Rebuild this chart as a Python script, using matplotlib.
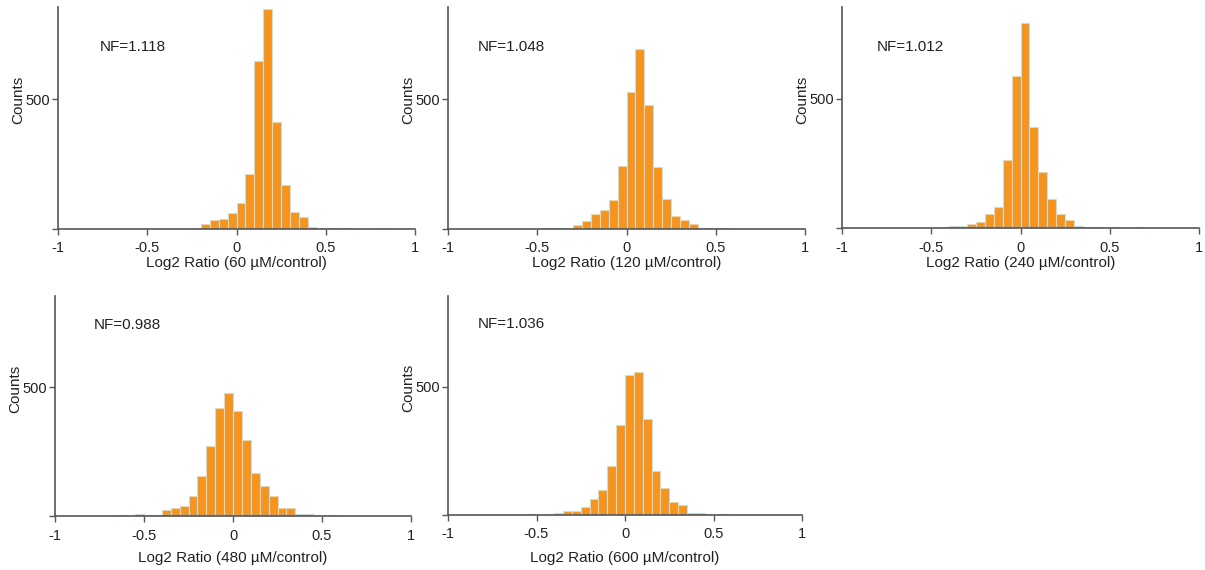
import numpy as np
import matplotlib
matplotlib.use("Agg")
import matplotlib.pyplot as plt

plt.rcParams['font.family'] = ['Liberation Sans', 'DejaVu Sans']

# bins of width 0.05, left edges
bin_width = 0.05

# 60 uM
left_60 = [-0.25, -0.2, -0.15, -0.1, -0.05, 0.0, 0.05, 0.1, 0.15, 0.2, 0.25, 0.3, 0.35, 0.4,
           0.45, 0.5, 0.55, 0.6, 0.8]
counts_60 = [2, 18, 33, 40, 61, 100, 212, 646, 848, 413, 168, 64, 47, 9,
             3, 2, 2, 2, 2]

# 120 uM
left_120 = [-0.5, -0.45, -0.4, -0.35, -0.3, -0.25, -0.2, -0.15, -0.1, -0.05, 0.0, 0.05, 0.1,
            0.15, 0.2, 0.25, 0.3, 0.35, 0.4, 0.45, 0.5, 0.55]
counts_120 = [2, 2, 2, 2, 14, 29, 58, 74, 110, 244, 528, 692, 477,
              238, 116, 51, 36, 19, 3, 3, 3, 3]

# 240 uM
left_240 = [-0.45, -0.4, -0.35, -0.3, -0.25, -0.2, -0.15, -0.1, -0.05, 0.0, 0.05, 0.1, 0.15,
            0.2, 0.25, 0.3, 0.35, 0.4, 0.45, 0.5, 0.65]
counts_240 = [2, 9, 9, 14, 25, 53, 83, 264, 589, 793, 391, 218, 112,
              54, 30, 9, 3, 3, 3, 3, 3]

# 480 uM
left_480 = [-0.65, -0.55, -0.5, -0.45, -0.4, -0.35, -0.3, -0.25, -0.2, -0.15, -0.1, -0.05, 0.0,
            0.05, 0.1, 0.15, 0.2, 0.25, 0.3, 0.35, 0.4, 0.45, 0.5, 0.55]
counts_480 = [4, 9, 3, 3, 25, 30, 39, 78, 154, 273, 421, 477, 407,
              296, 167, 115, 76, 31, 31, 8, 8, 3, 3, 3]

# 600 uM
left_600 = [-0.55, -0.45, -0.4, -0.35, -0.3, -0.25, -0.2, -0.15, -0.1, -0.05, 0.0, 0.05, 0.1,
            0.15, 0.2, 0.25, 0.3, 0.35, 0.4, 0.45, 0.5, 0.55]
counts_600 = [4, 4, 9, 17, 17, 32, 62, 99, 190, 353, 547, 560, 374,
              173, 106, 51, 38, 8, 8, 3, 3, 3]

doses = ["60", "120", "240", "480", "600"]
nf_values = ["1.118", "1.048", "1.012", "0.988", "1.036"]
lefts = [left_60, left_120, left_240, left_480, left_600]
counts = [counts_60, counts_120, counts_240, counts_480, counts_600]

x_ticks = [-1, -0.5, 0, 0.5, 1]
x_ticklabels = ["-1", "-0.5", "0", "0.5", "1"]

W, H = 1205, 570
# axes boxes in pixels: left, right, top, bottom
boxes = [(58, 415, 7, 229), (448, 805, 7, 229), (842, 1199, 7, 228),
         (55, 411, 296, 516), (448, 802, 296, 515)]
nf_pos = [(0.118, 0.82), (0.084, 0.82), (0.098, 0.82), (0.11, 0.87), (0.084, 0.87)]
xlabel_y = [263, 263, 263, 558, 558]  # pixel centre of the x label

bar_color = "#F7941D"
edge_color = "#BDE0EC"
axis_color = "#5a5652"
text_color = "#222222"

fig = plt.figure(figsize=(W / 100, H / 100), dpi=100)

for i in range(5):
    l, r, t, b = boxes[i]
    ax = fig.add_axes([l / W, 1 - b / H, (r - l) / W, (b - t) / H])
    ax.bar(lefts[i], counts[i], width=bin_width, align='edge', color=bar_color,
           edgecolor=edge_color, linewidth=0.8)
    ax.set_xlim(-1, 1)
    ax.set_ylim(0, 855)
    ax.set_xticks(x_ticks)
    ax.set_xticklabels(x_ticklabels)
    ax.set_yticks([0, 500])
    ax.set_yticklabels(["", "500"])
    for s in ['top', 'right']:
        ax.spines[s].set_visible(False)
    for s in ['left', 'bottom']:
        ax.spines[s].set_color(axis_color)
        ax.spines[s].set_linewidth(1.2)
    ax.tick_params(colors=axis_color, labelcolor=text_color, labelsize=10.5,
                   length=4, width=1, pad=2)
    ax.tick_params(axis='x', pad=5)
    ax.set_xlabel(f"Log2 Ratio ({doses[i]} µM/control)", fontsize=11,
                  color=text_color, va='center')
    ax.xaxis.set_label_coords(0.5, (b - xlabel_y[i]) / (b - t))
    ax.set_ylabel("Counts", fontsize=11, color=text_color, va='center')
    ax.yaxis.set_label_coords(-40 / (r - l), 0.58)
    ax.text(nf_pos[i][0], nf_pos[i][1], f"NF={nf_values[i]}", transform=ax.transAxes,
            fontsize=11, color=text_color, va='center', ha='left')

fig.savefig("out.png", dpi=100)
